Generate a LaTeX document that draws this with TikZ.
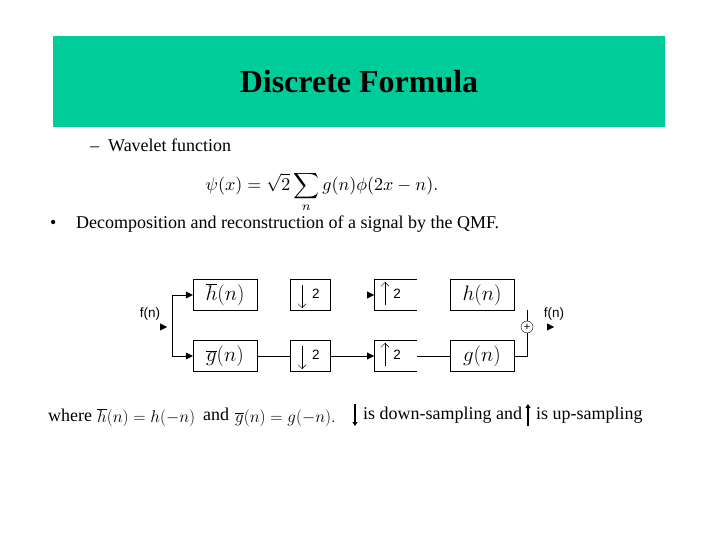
\RequirePackage{fix-cm}
\documentclass[tikz,border=0pt]{standalone}
\usepackage{fontspec}
\setmainfont{Liberation Serif}
\newfontfamily\arialf{Liberation Sans}
\usetikzlibrary{arrows.meta}
\begin{document}
\begin{tikzpicture}[x=1pt,y=-1pt,
  blk/.style={draw,minimum width=64pt,minimum height=31pt,inner sep=0pt,font=\fontsize{21}{22}\selectfont},
  smp/.style={draw,minimum width=40pt,minimum height=31pt,inner sep=0pt},
  txt/.style={inner sep=0pt,anchor=west,font=\fontsize{18}{20}\selectfont},
  lab/.style={inner sep=0pt,font=\arialf\fontsize{13.5}{14}\selectfont},
  tri/.style={-{Triangle[length=7pt,width=7pt]}}]
\useasboundingbox (0,0) rectangle (720,540);
\fill[fill={rgb,255:red,0;green,204;blue,153}] (53,36) rectangle (665,127);
\node[font=\bfseries\fontsize{32}{34}\selectfont] (title) at (359,82) {Discrete Formula};
\node[txt] (wav) at (90,145) {--\ \ Wavelet function};
\node[inner sep=0pt] (eq) at (322,192) {\scalebox{1.8}{$\displaystyle\psi(x)=\sqrt{2}\sum_n g(n)\phi(2x-n).$}};
\node[txt] (bul) at (50,224) {\textbullet};
\node[txt] (dec) at (76,224) {Decomposition and reconstruction of a signal by the QMF.};
% blocks
\node[blk] (hb) at (225,295) {$\overline{h}(n)$};
\node[blk] (gb) at (225,356) {$\overline{g}(n)$};
\node[smp] (d1) at (310,295) {};
\node[smp] (d2) at (310,356) {};
\node[blk] (h) at (482,295) {$h(n)$};
\node[blk] (g) at (482,356) {$g(n)$};
\foreach \n/\y in {d1/295,d2/356}{
  \draw[-{Straight Barb[length=4pt]}] (302,\y-10) -- (302,\y+13);
  \node[lab] at (316,\y-1) {2};}
\foreach \n/\y in {u1/295,u2/356}{
  \coordinate (\n) at (374,\y);
  \draw (417,\y-15.5) -- (374,\y-15.5) -- (374,\y+15.5) -- (417,\y+15.5);
  \draw[-{Straight Barb[length=4pt]}] (385,\y+10) -- (385,\y-13);
  \node[lab] at (397,\y-1) {2};}
\coordinate (u2o) at (417,356);
% left
\coordinate (lt) at (172,295);
\coordinate (lb) at (172,356);
\draw (lt) -- (lb);
\draw[tri] (lt) -- (hb.west);
\draw[tri] (lb) -- (gb.west);
\draw[tri] (160,327) -- (167,327);
\node[lab] (fin) at (150,314) {f(n)};
\draw (gb.east) -- (d2.west);
\draw[tri] (d2.east) -- (u2);
\draw[tri] (367,295) -- (u1);
\draw (u2o) -- (g.west);
\node[draw,circle,inner sep=0pt,minimum size=12pt,font=\arialf\fontsize{11}{11}\selectfont] (sum) at (527,327) {+};
\draw (g.east) -| (sum.south);
\draw (sum.north) -- (527,310);
\draw[tri] (547,327) -- (554,327);
\node[lab] (fout) at (554,314) {f(n)};
% bottom text
\node[txt] (wh) at (48,415) {where};
\node[txt] (e1) at (97,418) {\fontsize{17}{18}\selectfont$\overline{h}(n)=h(-n)$};
\node[txt] (an) at (203,414) {and};
\node[txt] (e2) at (235,418) {\fontsize{17}{18}\selectfont$\overline{g}(n)=g(-n).$};
\draw[line width=2pt,-{Triangle[length=4pt,width=5pt]}] (355,404) -- (355,426);
\node[txt] (ds) at (363,415) {is down-sampling and};
\draw[line width=2pt,-{Triangle[length=4pt,width=5pt]}] (528,426) -- (528,404);
\node[txt] (us) at (536,415) {is up-sampling};
\end{tikzpicture}
\end{document}
